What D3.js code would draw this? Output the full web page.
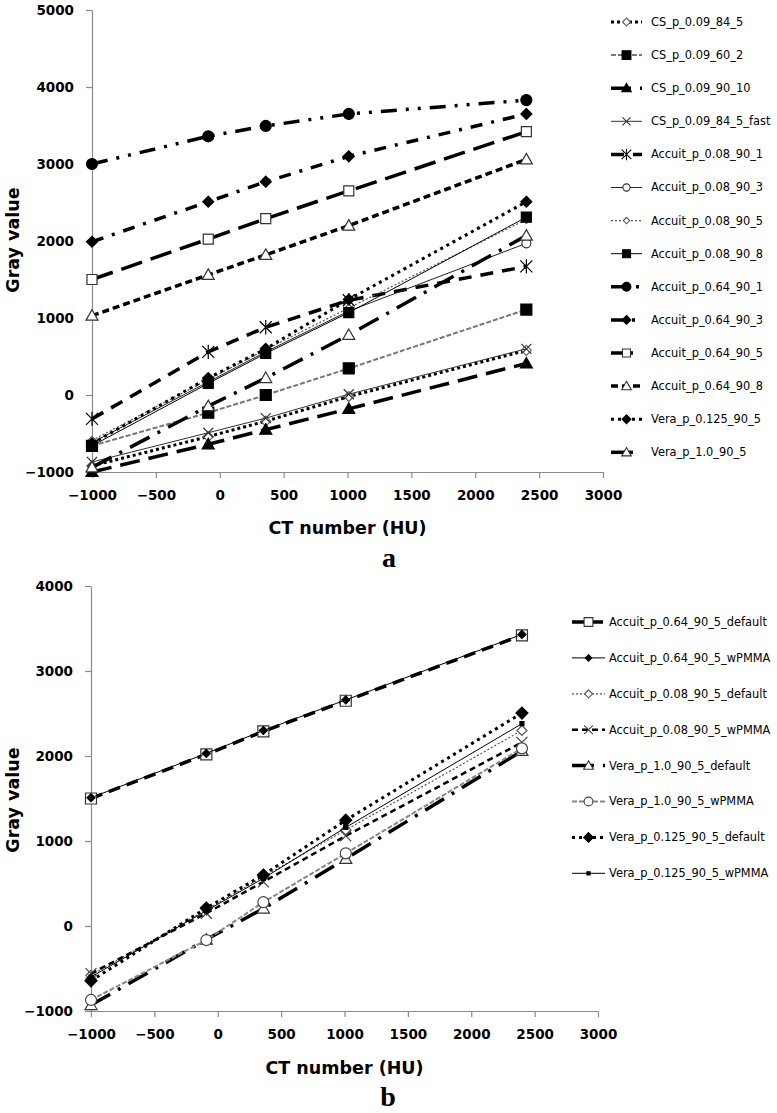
<!DOCTYPE html>
<html><head><meta charset="utf-8">
<script src="https://cdn.jsdelivr.net/npm/d3@7"></script>
<style>body{margin:0;background:#fff} svg{display:block}</style>
</head><body>
<svg id="c" width="777" height="1113"></svg>
<script>
// ---------- data ----------
const ctNumbers = [-1000, -90, 360, 1010, 2400];
const xTicks = [-1000, -500, 0, 500, 1000, 1500, 2000, 2500, 3000];
const yTicksA = [-1000, 0, 1000, 2000, 3000, 4000, 5000];
const yTicksB = [-1000, 0, 1000, 2000, 3000, 4000];

// panel a
const namesA = ["CS_p_0.09_84_5","CS_p_0.09_60_2","CS_p_0.09_90_10","CS_p_0.09_84_5_fast",
  "Accuit_p_0.08_90_1","Accuit_p_0.08_90_3","Accuit_p_0.08_90_5","Accuit_p_0.08_90_8",
  "Accuit_p_0.64_90_1","Accuit_p_0.64_90_3","Accuit_p_0.64_90_5","Accuit_p_0.64_90_8",
  "Vera_p_0.125_90_5","Vera_p_1.0_90_5"];
const csP009_84_5     = [-920, -540, -340, -20, 580];
const csP009_60_2     = [-660, -230, 0, 345, 1110];
const csP009_90_10    = [-1000, -640, -450, -180, 410];
const csP009_84_5fast = [-870, -490, -300, 10, 600];
const accP008_90_1    = [-310, 560, 880, 1230, 1670];
const accP008_90_3    = [-620, 170, 560, 1090, 1970];
const accP008_90_5    = [-590, 200, 590, 1130, 2280];
const accP008_90_8    = [-660, 150, 540, 1070, 2310];
const accP064_90_1    = [3000, 3360, 3494, 3650, 3830];
const accP064_90_3    = [1990, 2510, 2770, 3100, 3650];
const accP064_90_5    = [1500, 2025, 2290, 2650, 3420];
const accP064_90_8    = [1030, 1560, 1820, 2200, 3060];
const veraP0125_90_5  = [-630, 220, 600, 1240, 2510];
const veraP10_90_5    = [-940, -145, 220, 780, 2070];
const valuesA = [csP009_84_5, csP009_60_2, csP009_90_10, csP009_84_5fast, accP008_90_1, accP008_90_3,
  accP008_90_5, accP008_90_8, accP064_90_1, accP064_90_3, accP064_90_5, accP064_90_8, veraP0125_90_5, veraP10_90_5];

// panel b
const namesB = ["Accuit_p_0.64_90_5_default","Accuit_p_0.64_90_5_wPMMA","Accuit_p_0.08_90_5_default",
  "Accuit_p_0.08_90_5_wPMMA","Vera_p_1.0_90_5_default","Vera_p_1.0_90_5_wPMMA",
  "Vera_p_0.125_90_5_default","Vera_p_0.125_90_5_wPMMA"];
const accP064Default = [1500, 2020, 2290, 2650, 3420];
const accP064Wpmma   = [1510, 2030, 2300, 2660, 3430];
const accP008Default = [-580, 190, 580, 1130, 2300];
const accP008Wpmma   = [-560, 150, 520, 1060, 2160];
const vera10Default  = [-930, -160, 205, 790, 2060];
const vera10Wpmma    = [-870, -165, 280, 855, 2090];
const vera0125Default= [-645, 212, 600, 1245, 2505];
const vera0125Wpmma  = [-600, 180, 560, 1160, 2380];
const valuesB = [accP064Default, accP064Wpmma, accP008Default, accP008Wpmma, vera10Default, vera10Wpmma, vera0125Default, vera0125Wpmma];

// ---------- styles ----------
const stylesA = [
  {dash:"3,3", w:3, c:"#000", m:"diamond", fill:"#fff", mc:"#666", r:5},
  {dash:"5,2", w:2, c:"#777", m:"square", fill:"#000", mc:"#000", r:5.5},
  {dash:"20,9", w:3.5, c:"#000", m:"triangle", fill:"#000", mc:"#000", r:6},
  {dash:null, w:1, c:"#333", m:"x", fill:"none", mc:"#333", r:5},
  {dash:"13,9", w:3.5, c:"#000", m:"asterisk", fill:"none", mc:"#000", r:6},
  {dash:null, w:1, c:"#222", m:"circle", fill:"#fff", mc:"#333", r:4.5},
  {dash:"2,2", w:1.2, c:"#555", m:"diamond", fill:"#fff", mc:"#555", r:4},
  {dash:null, w:1, c:"#000", m:"square", fill:"#000", mc:"#000", r:5},
  {dash:"16,9,3,9,3,9", w:3.5, c:"#000", m:"circle", fill:"#000", mc:"#000", r:5.5},
  {dash:"12,9,3,9", w:3.5, c:"#000", m:"diamond", fill:"#000", mc:"#000", r:5.5},
  {dash:"22,9", w:3.5, c:"#000", m:"square", fill:"#fff", mc:"#333", r:5},
  {dash:"7,4", w:3.5, c:"#000", m:"triangle", fill:"#fff", mc:"#333", r:6},
  {dash:"3,4", w:3, c:"#000", m:"diamond", fill:"#000", mc:"#000", r:5.5},
  {dash:"22,9,3,9", w:3.5, c:"#000", m:"triangle", fill:"#fff", mc:"#333", r:6}
];
const stylesB = [
  {dash:"12,7", w:3.5, c:"#000", m:"square", fill:"#fff", mc:"#333", r:5.5},
  {dash:null, w:1, c:"#000", m:"diamond", fill:"#000", mc:"#000", r:4},
  {dash:"2,2", w:1.2, c:"#555", m:"diamond", fill:"#fff", mc:"#555", r:5},
  {dash:"6,4", w:2.5, c:"#000", m:"x", fill:"none", mc:"#444", r:5.5},
  {dash:"22,9,3,9", w:3.5, c:"#000", m:"triangle", fill:"#fff", mc:"#333", r:6},
  {dash:"5,2", w:2, c:"#888", m:"circle", fill:"#fff", mc:"#444", r:5.5},
  {dash:"3,4", w:3, c:"#000", m:"diamond", fill:"#000", mc:"#000", r:6},
  {dash:null, w:1, c:"#000", m:"square", fill:"#000", mc:"#000", r:2}
];

function markerPath(type, r) {
  switch (type) {
    case "circle": return `M${r},0A${r},${r},0,1,1,${-r},0A${r},${r},0,1,1,${r},0Z`;
    case "square": return `M${-r},${-r}H${r}V${r}H${-r}Z`;
    case "diamond": return `M0,${-r}L${r},0L0,${r}L${-r},0Z`;
    case "triangle": return `M0,${-r}L${r},${r*0.75}L${-r},${r*0.75}Z`;
    case "x": return `M${-r},${-r}L${r},${r}M${-r},${r}L${r},${-r}`;
    case "asterisk": return `M${-r},${-r}L${r},${r}M${-r},${r}L${r},${-r}M0,${-r*1.2}V${r*1.2}`;
  }
}

const svg = d3.select("#c");
const FONT = "'DejaVu Sans', Verdana, sans-serif";

function panel(cfg) {
  const x = d3.scaleLinear().domain([-1000, 3000]).range([cfg.x0, cfg.x1]);
  const y = d3.scaleLinear().domain([-1000, cfg.ymax]).range([cfg.yb, cfg.yt]);
  const g = svg.append("g");

  const ax = g.append("g").attr("transform", `translate(0,${cfg.yb})`)
    .call(d3.axisBottom(x).tickValues(xTicks).tickSize(6).tickPadding(12).tickSizeOuter(0).tickFormat(d3.format("d")));
  const ay = g.append("g").attr("transform", `translate(${cfg.x0},0)`)
    .call(d3.axisLeft(y).tickValues(cfg.yTicks).tickSize(6).tickPadding(12).tickSizeOuter(0).tickFormat(d3.format("d")));
  [ax, ay].forEach(a => {
    a.select(".domain").attr("stroke", "#8a8a8a").attr("stroke-width", 1.2);
    a.selectAll(".tick line").attr("stroke", "#8a8a8a").attr("stroke-width", 1.2);
    a.selectAll(".tick text").attr("fill", "#000").attr("font-family", FONT)
      .attr("font-weight", "bold").attr("font-size", 13.5);
  });
  g.append("text").attr("x", (cfg.x0 + cfg.x1) / 2).attr("y", cfg.xTitleY)
    .attr("text-anchor", "middle").attr("font-family", FONT).attr("font-weight", "bold")
    .attr("font-size", 17.5).text("CT number (HU)");
  g.append("text").attr("transform", `translate(19,${cfg.yTitleC}) rotate(-90)`)
    .attr("text-anchor", "middle").attr("font-family", FONT).attr("font-weight", "bold")
    .attr("font-size", 17.5).text("Gray value");
  g.append("text").attr("x", cfg.letterX).attr("y", cfg.letterY).attr("text-anchor", "middle")
    .attr("font-family", "'Liberation Serif', 'Times New Roman', serif").attr("font-weight", "bold")
    .attr("font-size", 28).text(cfg.letter);

  const line = d3.line().x((d, i) => x(ctNumbers[i])).y(d => y(d));
  cfg.values.forEach((vals, k) => {
    const st = cfg.styles[k];
    const sg = g.append("g");
    sg.append("path").attr("d", line(vals)).attr("fill", "none").attr("stroke", st.c)
      .attr("stroke-width", st.w).attr("stroke-dasharray", st.dash);
    sg.selectAll("path.mk").data(vals).join("path").attr("class", "mk")
      .attr("transform", (d, i) => `translate(${x(ctNumbers[i])},${y(d)})`)
      .attr("d", markerPath(st.m, st.r)).attr("fill", st.fill).attr("stroke", st.mc)
      .attr("stroke-width", 1.2);
  });

  // legend
  const lg = g.append("g");
  cfg.names.forEach((name, k) => {
    const st = cfg.styles[k];
    const yy = cfg.legY0 + k * cfg.legStep;
    lg.append("line").attr("x1", cfg.legX0).attr("x2", cfg.legX1).attr("y1", yy).attr("y2", yy)
      .attr("stroke", st.c).attr("stroke-width", st.w).attr("stroke-dasharray", st.dash);
    lg.append("path").attr("transform", `translate(${(cfg.legX0 + cfg.legX1) / 2},${yy})`)
      .attr("d", markerPath(st.m, st.r * 0.8)).attr("fill", st.fill).attr("stroke", st.mc).attr("stroke-width", 1.1);
    lg.append("text").attr("x", cfg.legTextX).attr("y", yy).attr("dy", "0.35em")
      .attr("font-family", FONT).attr("font-size", 11.4).attr("fill", "#000").text(name);
  });
}

panel({x0: 92, x1: 603, yb: 472, yt: 10, ymax: 5000, yTicks: yTicksA,
  xTitleY: 534, yTitleC: 240, letter: "a", letterX: 389, letterY: 567,
  values: valuesA, styles: stylesA, names: namesA,
  legX0: 611, legX1: 642, legTextX: 651, legY0: 22, legStep: 33.1});

panel({x0: 91, x1: 598, yb: 1011, yt: 586, ymax: 4000, yTicks: yTicksB,
  xTitleY: 1074, yTitleC: 800, letter: "b", letterX: 388, letterY: 1106,
  values: valuesB, styles: stylesB, names: namesB,
  legX0: 572, legX1: 605, legTextX: 609, legY0: 622, legStep: 35.9});
</script>
</body></html>
